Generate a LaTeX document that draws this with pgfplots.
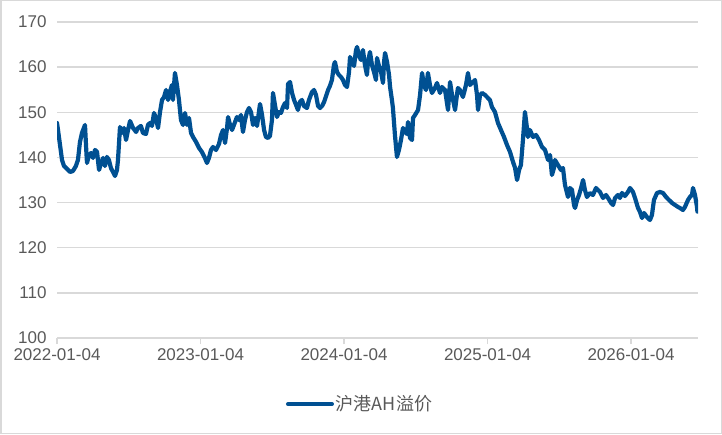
\documentclass[border=0pt]{standalone}
\usepackage{fontspec}
\setmainfont{Liberation Sans}
\newfontfamily\cjk{Noto Sans CJK SC}
\usepackage{pgfplots}
\usepackage{pgfplotstable}
\pgfplotsset{compat=1.18}
\definecolor{lineblue}{RGB}{0,80,146}
\definecolor{gridgray}{RGB}{217,217,217}
\definecolor{txtgray}{RGB}{89,89,89}

\pgfplotstableread{
x y
0 147.63
0.007 146.08
0.021 142.76
0.035 139.43
0.049 138.10
0.070 137.44
0.091 136.78
0.111 137.00
0.132 138.10
0.146 139.43
0.160 143.42
0.174 145.42
0.195 147.19
0.202 142.76
0.209 138.77
0.223 140.54
0.237 140.98
0.251 139.88
0.265 141.65
0.279 141.21
0.293 137.22
0.307 138.77
0.321 139.88
0.334 138.10
0.348 140.10
0.362 139.43
0.376 137.66
0.390 136.78
0.404 135.89
0.418 137.22
0.425 139.43
0.439 146.74
0.453 145.42
0.467 146.52
0.481 143.86
0.495 146.08
0.509 148.07
0.530 146.52
0.551 145.64
0.564 146.52
0.585 146.97
0.599 145.42
0.620 145.19
0.634 147.19
0.648 147.63
0.662 146.97
0.676 149.85
0.690 148.74
0.704 146.52
0.718 150.07
0.732 152.73
0.746 153.39
0.760 154.94
0.774 152.73
0.787 154.50
0.801 156.05
0.808 152.73
0.822 158.71
0.836 156.05
0.850 152.73
0.864 148.29
0.878 147.19
0.892 149.85
0.906 147.19
0.920 148.74
0.934 145.42
0.948 144.53
0.969 143.42
0.990 142.09
1.010 141.21
1.031 139.88
1.045 138.77
1.059 139.88
1.073 141.65
1.087 142.31
1.108 141.65
1.129 142.98
1.143 144.97
1.157 146.08
1.171 143.20
1.185 146.52
1.192 148.96
1.206 147.19
1.220 146.08
1.233 147.19
1.254 148.96
1.268 148.29
1.282 149.40
1.296 145.64
1.310 148.29
1.324 150.07
1.338 150.95
1.352 150.07
1.366 147.19
1.380 148.74
1.394 146.97
1.408 150.29
1.415 151.84
1.429 149.40
1.443 146.08
1.456 144.53
1.470 144.31
1.484 144.75
1.498 148.29
1.505 154.28
1.519 151.62
1.533 148.96
1.547 150.07
1.561 149.85
1.575 151.17
1.589 152.06
1.603 150.95
1.610 156.27
1.624 156.71
1.638 154.28
1.652 152.73
1.666 151.62
1.679 150.51
1.693 152.28
1.707 152.73
1.721 151.40
1.742 150.95
1.756 152.73
1.777 154.50
1.791 154.94
1.805 153.83
1.819 151.40
1.833 150.95
1.847 151.40
1.861 152.28
1.875 153.61
1.889 154.94
1.902 155.83
1.916 157.16
1.930 160.48
1.937 161.14
1.951 158.93
1.965 158.26
1.979 157.82
1.993 157.16
2.007 156.05
2.021 155.60
2.035 158.93
2.042 162.25
2.056 161.14
2.070 160.26
2.084 163.80
2.091 164.47
2.105 162.47
2.118 161.59
2.132 163.80
2.146 160.48
2.160 158.26
2.167 161.14
2.181 163.36
2.195 160.48
2.209 158.93
2.223 157.16
2.230 162.03
2.244 160.26
2.258 158.93
2.272 156.49
2.279 161.14
2.286 163.14
2.300 161.14
2.314 158.26
2.321 155.60
2.334 152.73
2.341 150.95
2.355 144.97
2.369 140.10
2.383 141.65
2.397 143.86
2.411 146.52
2.425 145.64
2.439 145.19
2.446 147.85
2.460 144.31
2.474 143.86
2.481 148.74
2.495 149.40
2.516 150.51
2.530 153.83
2.544 158.71
2.557 156.05
2.571 154.94
2.585 158.71
2.599 156.05
2.613 154.28
2.634 155.38
2.648 156.49
2.669 154.28
2.683 155.60
2.704 154.94
2.725 150.51
2.739 156.71
2.753 153.83
2.774 150.51
2.787 153.83
2.794 155.38
2.808 154.94
2.829 153.39
2.850 156.05
2.864 158.71
2.878 156.05
2.892 156.49
2.913 157.16
2.927 153.83
2.934 150.51
2.948 153.83
2.962 154.28
2.983 153.83
3.003 153.17
3.017 152.73
3.031 151.17
3.052 150.07
3.073 147.63
3.094 146.08
3.115 144.53
3.136 142.76
3.157 141.21
3.178 138.99
3.192 137.66
3.206 135.00
3.220 137.22
3.233 138.32
3.247 143.86
3.261 150.07
3.275 146.52
3.282 144.53
3.296 146.08
3.317 144.53
3.338 144.97
3.359 143.86
3.380 142.31
3.401 141.65
3.422 139.43
3.436 140.54
3.449 136.11
3.463 137.66
3.470 139.43
3.491 138.32
3.512 137.22
3.526 137.66
3.540 133.89
3.561 131.24
3.575 133.23
3.589 132.79
3.603 129.46
3.610 128.80
3.624 130.57
3.638 131.68
3.652 133.23
3.666 135.00
3.679 132.79
3.693 131.24
3.714 132.12
3.735 131.68
3.756 133.23
3.770 132.79
3.784 132.35
3.805 131.02
3.826 131.68
3.840 131.02
3.861 129.91
3.875 129.46
3.889 131.02
3.909 131.68
3.923 131.02
3.937 132.12
3.958 131.46
3.979 132.35
3.993 133.23
4.014 132.35
4.028 131.02
4.049 128.80
4.063 127.91
4.077 126.58
4.091 127.69
4.111 126.81
4.132 126.14
4.146 127.25
4.160 130.57
4.181 132.12
4.202 132.35
4.223 132.12
4.244 131.24
4.265 130.57
4.286 129.91
4.307 129.46
4.328 129.02
4.341 128.80
4.362 128.36
4.376 129.02
4.397 130.57
4.411 131.24
4.425 131.68
4.432 133.23
4.446 131.68
4.460 129.02
4.463 128.00
}\ahdata

\begin{document}
\begin{tikzpicture}[x=1pt,y=1pt]
\path[use as bounding box] (0,0) rectangle (722,434);
\draw[gridgray, line width=1.5pt] (0.75,0.75) rectangle (721.25,433.25);
\begin{axis}[
  at={(57pt,96pt)}, anchor=south west, scale only axis,
  width=641pt, height=316pt,
  xmin=0, xmax=4.467, ymin=100, ymax=170,
  axis x line*=bottom, axis y line*=left,
  x axis line style={gridgray, line width=1.5pt, -},
  y axis line style={draw=none},
  ytick={100,110,...,170},
  ytick style={draw=none},
  xtick={0,1,2,3,4},
  xticklabels={2022-01-04,2023-01-04,2024-01-04,2025-01-04,2026-01-04},
  xtick style={gridgray, line width=1.5pt},
  tick align=outside,
  major tick length=6pt,
  ymajorgrids,
  grid style={gridgray, line width=1.5pt},
  /pgf/number format/assume math mode=true,
  yticklabel style={font=\fontsize{17}{20}\selectfont, text=txtgray, xshift=-1pt},
  xticklabel style={font=\fontsize{17}{20}\selectfont, text=txtgray, yshift=-1pt},
  legend style={at={(0.4727,-0.209)}, anchor=center, draw=none, fill=none,
    font=\fontsize{18}{20}\selectfont, text=txtgray},
  legend image code/.code={\draw[#1, line width=4pt] (0pt,0pt) -- (44pt,0pt);},
]
\addplot[lineblue, line width=4.2pt, line join=round, line cap=round] table[x=x,y=y] {\ahdata};
\addlegendentry{\cjk 沪港AH溢价}
\end{axis}
\end{tikzpicture}
\end{document}
